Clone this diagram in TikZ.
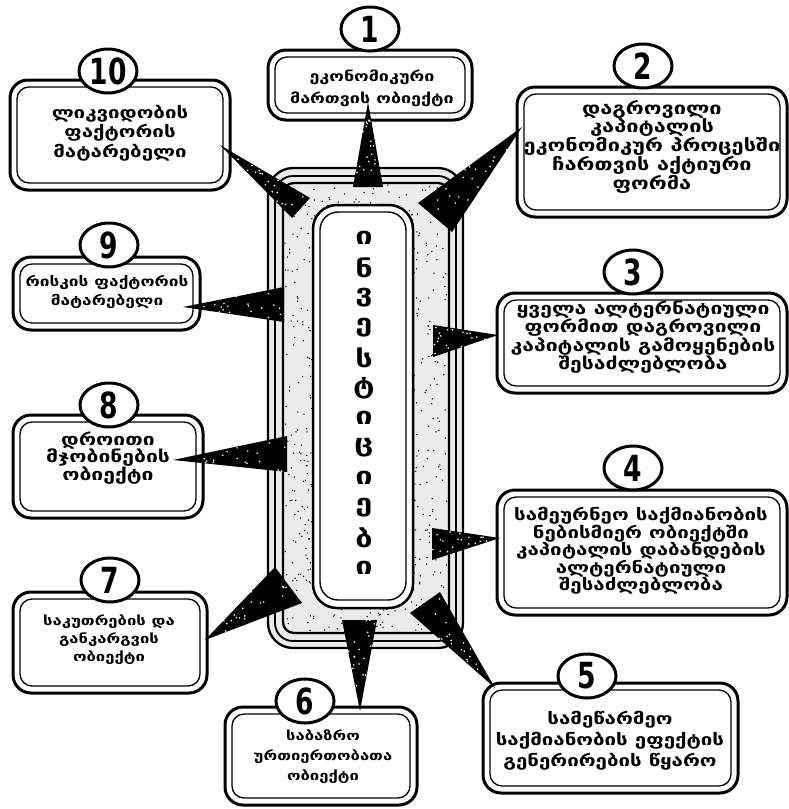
\documentclass[tikz,border=0pt]{standalone}
\usepackage{fontspec}
\usetikzlibrary{shapes.geometric,calc}
\newfontfamily\geo[FakeStretch=1.28]{DejaVu Sans}
\newfontfamily\numf[FakeStretch=0.82]{DejaVu Sans Condensed}
\tikzset{
  gbox/.style={draw,line width=3pt,rounded corners=18pt,fill=white,inner sep=0pt,outer sep=0pt},
  ginner/.style={line width=1.3pt,rounded corners=12pt},
  gtext/.style 2 args={align=center,inner sep=0pt,font=\geo\bfseries\fontsize{#1}{#2}\selectfont},
  numc/.style={ellipse,draw,line width=3pt,fill=white,minimum width=58pt,minimum height=44pt,inner sep=0pt,font=\numf\bfseries\fontsize{36}{36}\selectfont},
  wedgefill/.style={fill=black},
  frameline/.style={line width=2.3pt},
  colletter/.style={inner sep=0pt,font=\geo\bfseries\fontsize{24}{24}\selectfont},
}
\newcommand\mkbox[5]{%
  \pgfmathsetmacro\bcx{(#2+#4)/2}\pgfmathsetmacro\bcy{(#3+#5)/2}%
  \pgfmathsetmacro\bww{#4-#2}\pgfmathsetmacro\bhh{#5-#3}%
  \node[gbox,minimum width=\bww pt,minimum height=\bhh pt] (#1) at (\bcx,\bcy) {};
  \draw[ginner] ($(#1.north west)+(7,7)$) rectangle ($(#1.south east)+(-7,-7)$);
}
\newcommand\wedgeconn[3]{%
  \fill[wedgefill] (#1) -- (#2) -- (#3) -- cycle;
  \foreach \k in {1,...,18}{%
    \pgfmathsetmacro\uu{rnd}\pgfmathsetmacro\vv{0.8*rnd}%
    \fill[white] ($($(#1)!\uu!(#2)$)!\vv!(#3)$) circle (0.9);
  }%
}
\begin{document}
\begin{tikzpicture}[x=1pt,y=-1pt]
\useasboundingbox (0,0) rectangle (789,809);
\pgfmathsetseed{7}
% ---- central frame ----
\fill[gray!16,rounded corners=25pt] (268,168) rectangle (463,648);
\foreach \i in {1,...,800}{%
  \pgfmathsetmacro\rx{285+162*rnd}\pgfmathsetmacro\ry{185+446*rnd}%
  \fill (\rx,\ry) circle (0.75);
}
\draw[frameline,rounded corners=25pt] (268,168) rectangle (463,648);
\draw[line width=1.8pt,rounded corners=18pt] (275,176) rectangle (456,641);
\draw[frameline,rounded corners=11pt] (283,183) rectangle (449,633);
\node[draw,line width=2.5pt,rounded corners=24pt,fill=white,minimum width=100pt,minimum height=403pt,inner sep=0pt,outer sep=0pt] (inv) at (363,406.5) {};
\draw[line width=1.4pt,rounded corners=18pt] ($(inv.north west)+(7,7)$) rectangle ($(inv.south east)+(-7,-8)$);
\foreach \L [count=\k from 0] in {ი,ნ,ვ,ე,ს,ტ,ი,ც,ი,ე,ბ,ი}{%
  \node[colletter] (c\k) at (364,{238+30*\k}) {\L};
}
% ---- boxes ----
\mkbox{b1}{268}{50}{472}{120}
\mkbox{b2}{517}{87}{787}{217}
\mkbox{b3}{497}{293}{787}{393}
\mkbox{b4}{497}{490}{787}{615}
\mkbox{b5}{483}{683}{738}{793}
\mkbox{b6}{225}{707}{417}{805}
\mkbox{b7}{13}{592}{207}{693}
\mkbox{b8}{13}{415}{203}{518}
\mkbox{b9}{13}{257}{200}{330}
\mkbox{b10}{10}{80}{230}{190}
% ---- texts ----
\node[gtext={14}{22}] (t1) at (372,88) {ეკონომიკური\\მართვის ობიექტი};
\node[gtext={17}{18}] (t2) at (652,147) {დაგროვილი\\კაპიტალის\\ეკონომიკურ პროცესში\\ჩართვის აქტიური\\ფორმა};
\node[gtext={16.5}{17}] (t3) at (643,337) {ყველა ალტერნატიული\\ფორმით დაგროვილი\\კაპიტალის გამოყენების\\შესაძლებლობა};
\node[gtext={16}{17.5}] (t4) at (641,551) {სამეურნეო საქმიანობის\\ნებისმიერ ობიექტში\\კაპიტალის დაბანდების\\ალტერნატიული\\შესაძლებლობა};
\node[gtext={16}{21}] (t5) at (610,741) {სამეწარმეო\\საქმიანობის ეფექტის\\გენერირების წყარო};
\node[gtext={13}{20}] (t6) at (323,757) {საბაზრო\\ურთიერთობათა\\ობიექტი};
\node[gtext={13}{18}] (t7) at (109,640) {საკუთრების და\\განკარგვის\\ობიექტი};
\node[gtext={16.5}{17.5}] (t8) at (108,458) {დროითი\\მჯობინების\\ობიექტი};
\node[gtext={13.5}{19}] (t9) at (107,292) {რისკის ფაქტორის\\მატარებელი};
\node[gtext={16}{19.5}] (t10) at (120,133) {ლიკვიდობის\\ფაქტორის\\მატარებელი};
% ---- number ellipses ----
\node[numc] (n1) at (370,29) {1};
\node[numc] (n2) at (643,66) {2};
\node[numc] (n3) at (633,272) {3};
\node[numc] (n4) at (633,468) {4};
\node[numc] (n5) at (587,676) {5};
\node[numc] (n6) at (305,701) {6};
\node[numc] (n7) at (110,580) {7};
\node[numc] (n8) at (109,405) {8};
\node[numc] (n9) at (109,245) {9};
\node[numc] (n10) at (108,71) {10};
% ---- wedge connectors ----
\coordinate (w1a) at (353,187); \coordinate (w1b) at (383,187); \coordinate (w1t) at (368,102);
\coordinate (w2a) at (418,203); \coordinate (w2b) at (452,232); \coordinate (w2t) at (522,127);
\coordinate (w3a) at (433,325); \coordinate (w3b) at (433,357); \coordinate (w3t) at (498,335);
\coordinate (w4a) at (432,528); \coordinate (w4b) at (432,560); \coordinate (w4t) at (500,538);
\coordinate (w5a) at (410,613); \coordinate (w5b) at (440,592); \coordinate (w5t) at (495,688);
\coordinate (w6a) at (342,620); \coordinate (w6b) at (377,620); \coordinate (w6t) at (360,711);
\coordinate (w7a) at (275,567); \coordinate (w7b) at (302,603); \coordinate (w7t) at (205,640);
\coordinate (w8a) at (287,436); \coordinate (w8b) at (287,472); \coordinate (w8t) at (173,460);
\coordinate (w9a) at (284,287); \coordinate (w9b) at (284,322); \coordinate (w9t) at (183,307);
\coordinate (w10a) at (292,218); \coordinate (w10b) at (310,198); \coordinate (w10t) at (220,145);
\wedgeconn{w1a}{w1b}{w1t}
\wedgeconn{w2a}{w2b}{w2t}
\wedgeconn{w3a}{w3b}{w3t}
\wedgeconn{w4a}{w4b}{w4t}
\wedgeconn{w5a}{w5b}{w5t}
\wedgeconn{w6a}{w6b}{w6t}
\wedgeconn{w7a}{w7b}{w7t}
\wedgeconn{w8a}{w8b}{w8t}
\wedgeconn{w9a}{w9b}{w9t}
\wedgeconn{w10a}{w10b}{w10t}
\end{tikzpicture}
\end{document}
